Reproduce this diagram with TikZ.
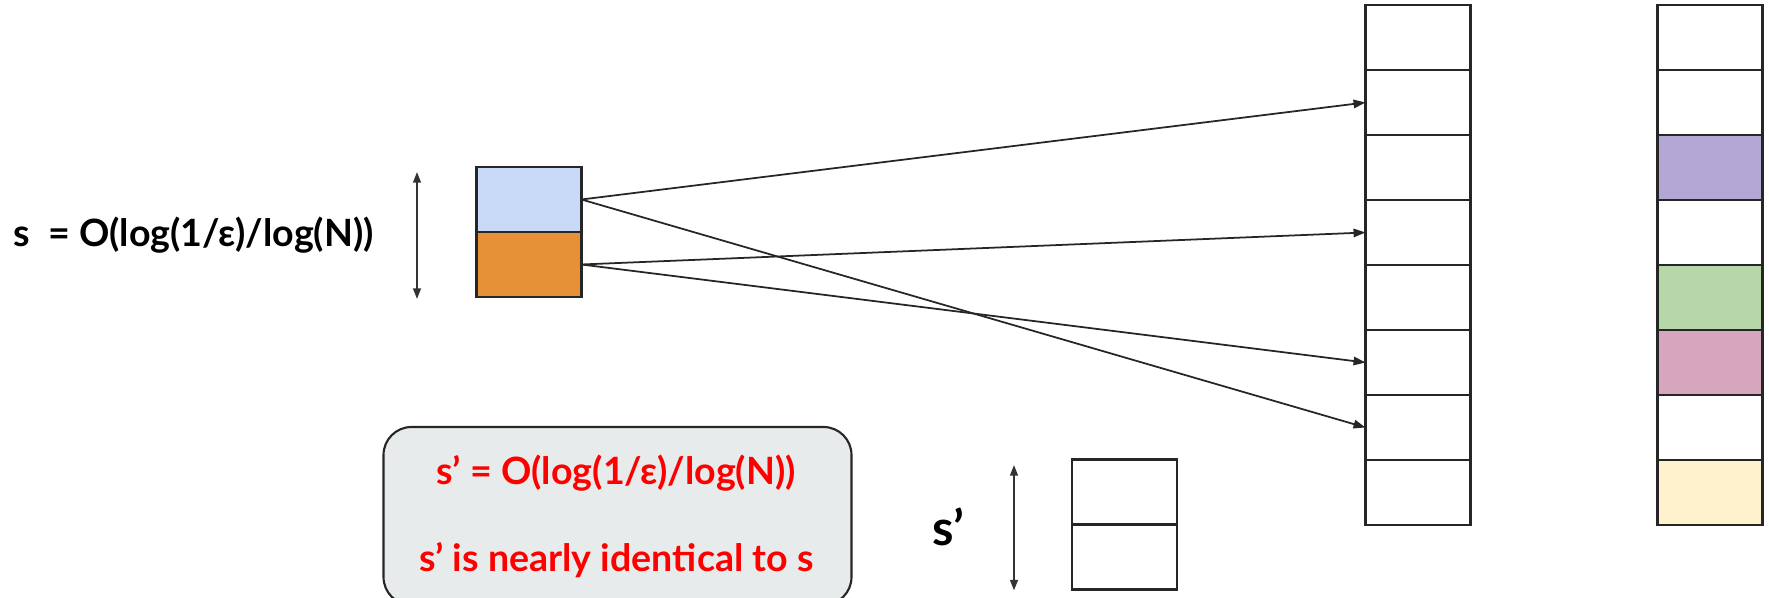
\documentclass[tikz,border=0pt]{standalone}
\usepackage{fontspec}
\setmainfont{Lato}
\usepackage{tikz}
\usetikzlibrary{arrows.meta,positioning}
\definecolor{cellBlue}{HTML}{C9DAF8}
\definecolor{cellOrange}{HTML}{E69138}
\definecolor{cellPurple}{HTML}{B4A7D6}
\definecolor{cellGreen}{HTML}{B6D7A8}
\definecolor{cellPink}{HTML}{D5A6BD}
\definecolor{cellYellow}{HTML}{FFF2CC}
\definecolor{noteGray}{HTML}{E8EBEB}
\colorlet{lineDark}{black!85}

\begin{document}
\begin{tikzpicture}[
    cell/.style={draw=lineDark, line width=0.65pt, minimum width=1.05cm, minimum height=0.65cm, inner sep=0pt, outer sep=0pt},
    link/.style={-{Triangle[length=3.4pt,width=2.4pt]}, line width=0.5pt, lineDark},
    span/.style={{Triangle[length=3pt,width=2.2pt]}-{Triangle[length=3pt,width=2.2pt]}, line width=0.55pt, black!80},
    txt/.style={font=\bfseries\fontsize{10.7pt}{13pt}\selectfont, inner sep=0pt}
  ]
        \useasboundingbox (0,0) rectangle (17.69,-5.98);
        % Table column with eight slots
        \foreach \i in {1,...,8}
          \node[cell] (c\i) at (14.18, {-0.375-0.65*(\i-1)}) {};
        % Second column, some slots filled
        \foreach \i/\fc in {1/white,2/white,3/cellPurple,4/white,5/cellGreen,6/cellPink,7/white,8/cellYellow}
          \node[cell, fill=\fc] (d\i) at (17.10, {-0.375-0.65*(\i-1)}) {};
        % Key of size s: two parts
        \node[cell, fill=cellBlue] (src1) at (5.29, -1.995) {};
        \node[cell, fill=cellOrange, below=0pt of src1] (src2) {};
        % Hashed positions
        \draw[link] (src1.east) -- (c2.west);
        \draw[link] (src1.east) -- (c7.west);
        \draw[link] (src2.east) -- (c4.west);
        \draw[link] (src2.east) -- (c6.west);
        % Size marker for s
        \coordinate (sTop) at (4.17, -1.72);
        \coordinate (sBot) at (4.17, -2.99);
        \draw[span] (sTop) -- (sBot);
        \node[txt, anchor=base west] (sLabel) at (0.13, -2.467) {s\hspace{0.18cm}= O(log(1/ε)/log(N))};
        % Key of size s'
        \node[cell] (sp1) at (11.245, -4.92) {};
        \node[cell, below=0pt of sp1] (sp2) {};
        \coordinate (spTop) at (10.14, -4.65);
        \coordinate (spBot) at (10.14, -5.905);
        \draw[span] (spTop) -- (spBot);
        \node[font=\bfseries\fontsize{13.9pt}{16pt}\selectfont, inner sep=0pt, anchor=base west] (spLabel) at (9.317, -5.46) {s’};
        % Note box (runs past the lower edge)
        \node[draw=lineDark, line width=0.6pt, fill=noteGray, rounded corners=0.28cm, minimum width=4.68cm, minimum height=1.78cm, inner sep=0pt] (note) at (6.175, -5.16) {};
        \node[txt, red, anchor=base] (noteA) at (6.16, -4.85) {s’ = O(log(1/ε)/log(N))};
        \node[txt, red, anchor=base] (noteB) at (6.164, -5.717) {s’ is nearly identical to s};
\end{tikzpicture}
\end{document}
